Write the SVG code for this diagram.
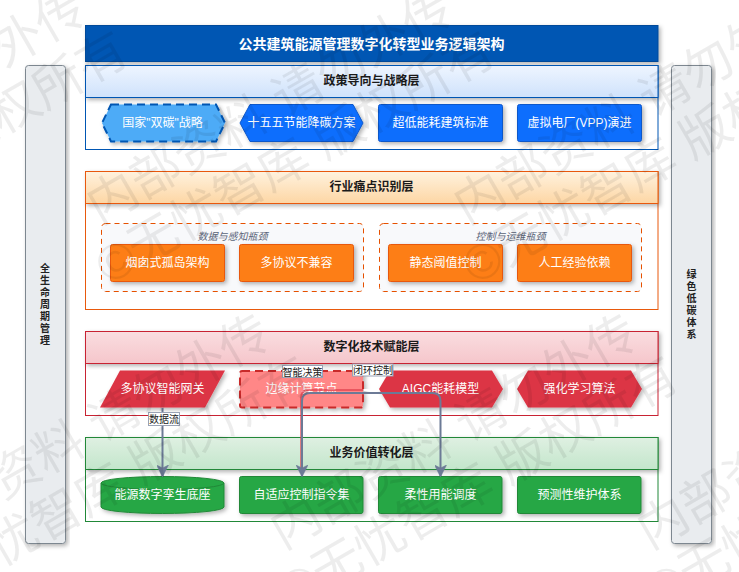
<svg xmlns="http://www.w3.org/2000/svg" width="739" height="572" viewBox="0 0 739 572">
<style>
text{font-family:"Liberation Sans","Noto Sans CJK SC",sans-serif;text-anchor:middle;dominant-baseline:central}
.wm{font-size:50px;fill:#000;fill-opacity:.07;text-anchor:start;dominant-baseline:auto}
.hd{font-size:12px;font-weight:bold;fill:#1a1a1a}
.n{font-size:12px;fill:#fff}
.s{filter:url(#sh)}
.lb{fill:#fff;stroke:#9aa3b5;stroke-width:1}
.lt{font-size:10px;fill:#222}
.gt{font-size:10px;font-style:italic;fill:#5a6478}
.grp{fill:#f8f9fb;stroke:#e65100;stroke-dasharray:5 4}
.side{fill:#e9ecef;stroke:#7d8790}
.st{font-size:10px;font-weight:bold;fill:#222}
.c{fill:none;stroke:#6c7a96;stroke-width:2;marker-end:url(#a)}
</style>
<defs>
<filter id="sh" x="-10%" y="-10%" width="120%" height="130%"><feDropShadow dx="2" dy="2" stdDeviation="2" flood-color="#000" flood-opacity=".3"/></filter>
<marker id="a" markerUnits="userSpaceOnUse" markerWidth="12" markerHeight="13" refX="6" refY="11" orient="0"><path d="M0 0L6 3L12 0L6 12Z" fill="#6c7a96" stroke="#6c7a96" stroke-width=".5"/></marker>
<linearGradient id="gb" x1="0" y1="0" x2="0" y2="1"><stop offset="0" stop-color="#eef5ff"/><stop offset="1" stop-color="#cfe2fb"/></linearGradient>
<linearGradient id="go" x1="0" y1="0" x2="0" y2="1"><stop offset="0" stop-color="#fff2de"/><stop offset="1" stop-color="#fdd6a4"/></linearGradient>
<linearGradient id="gr" x1="0" y1="0" x2="0" y2="1"><stop offset="0" stop-color="#fadde0"/><stop offset="1" stop-color="#f5c6cb"/></linearGradient>
<linearGradient id="gg" x1="0" y1="0" x2="0" y2="1"><stop offset="0" stop-color="#dff0e2"/><stop offset="1" stop-color="#c3e6cb"/></linearGradient>
</defs>
<rect width="739" height="572" fill="#fff"/>
<g id="title"><rect class="s" x="85.500" y="25.500" width="572.500" height="36" fill="#0056b3" stroke="#004a99"/><text x="371.500" y="43.500" font-size="14" font-weight="bold" fill="#fff">公共建筑能源管理数字化转型业务逻辑架构</text></g>
<g id="side-left"><rect class="side s" x="25.500" y="65.500" width="40" height="478" rx="3"/><text class="st" x="45"><tspan x="45" y="268">全</tspan><tspan x="45" y="280">生</tspan><tspan x="45" y="292">命</tspan><tspan x="45" y="304">周</tspan><tspan x="45" y="316">期</tspan><tspan x="45" y="328">管</tspan><tspan x="45" y="340">理</tspan></text></g>
<g id="side-right"><rect class="side s" x="671.500" y="65.500" width="40" height="478" rx="3"/><text class="st" x="691.500"><tspan x="691.500" y="274">绿</tspan><tspan x="691.500" y="286">色</tspan><tspan x="691.500" y="298">低</tspan><tspan x="691.500" y="310">碳</tspan><tspan x="691.500" y="322">体</tspan><tspan x="691.500" y="334">系</tspan></text></g>
<g id="layer1"><rect x="85.500" y="65.500" width="572.500" height="84" fill="#fff" stroke="#0056b3"/><rect class="s" x="85.500" y="65.500" width="572.500" height="32" fill="url(#gb)" stroke="#0056b3"/><text class="hd" x="371.500" y="80.500">政策导向与战略层</text></g>
<g id="layer2"><rect x="85.500" y="171.500" width="572.500" height="138" fill="#fff" stroke="#e8590c"/><rect class="s" x="85.500" y="171.500" width="572.500" height="32" fill="url(#go)" stroke="#e8590c"/><text class="hd" x="371.500" y="186.500">行业痛点识别层</text></g>
<g id="layer3"><rect x="85.500" y="331.500" width="572.500" height="84" fill="#fff" stroke="#c82333"/><rect class="s" x="85.500" y="331.500" width="572.500" height="32" fill="url(#gr)" stroke="#c82333"/><text class="hd" x="371.500" y="346.500">数字化技术赋能层</text></g>
<g id="layer4"><rect x="85.500" y="437.500" width="572.500" height="84" fill="#fff" stroke="#218838"/><rect class="s" x="85.500" y="437.500" width="572.500" height="32" fill="url(#gg)" stroke="#218838"/><text class="hd" x="371.500" y="452.500">业务价值转化层</text></g>
<g id="group-a"><rect class="grp" x="101.500" y="223.500" width="262" height="68" rx="4"/><text class="gt" x="232.500" y="236">数据与感知瓶颈</text></g>
<g id="group-b"><rect class="grp" x="379.500" y="223.500" width="262" height="68" rx="4"/><text class="gt" x="510.500" y="236">控制与运维瓶颈</text></g>
<g id="n1"><path class="s" d="M111 104.500H216L225 123L216 141.500H111L102 123Z" fill="#4dabf7" stroke="#0056b3" stroke-width="2" stroke-dasharray="8 5"/><text class="n" x="162.500" y="122.500">国家"双碳"战略</text></g>
<g id="n2"><path class="s" d="M250 104.500H353L363 123L353 141.500H250L240 123Z" fill="#0d6efd" stroke="#0a58ca"/><text class="n" x="301.500" y="122.500">十五五节能降碳方案</text></g>
<g id="n3"><rect class="s" x="378.500" y="104.500" width="124" height="37" rx="2" fill="#0d6efd" stroke="#0a58ca"/><text class="n" x="440.500" y="122.500">超低能耗建筑标准</text></g>
<g id="n4"><rect class="s" x="517.500" y="104.500" width="124" height="37" rx="2" fill="#0d6efd" stroke="#0a58ca"/><text class="n" x="579.500" y="122.500">虚拟电厂(VPP)演进</text></g>
<g id="n5"><rect class="s" x="110.500" y="244.500" width="114" height="37" rx="2" fill="#fd7e14" stroke="#e8590c"/><text class="n" x="167.500" y="262.500">烟囱式孤岛架构</text></g>
<g id="n6"><rect class="s" x="239.500" y="244.500" width="114" height="37" rx="2" fill="#fd7e14" stroke="#e8590c"/><text class="n" x="296.500" y="262.500">多协议不兼容</text></g>
<g id="n7"><rect class="s" x="388.500" y="244.500" width="114" height="37" rx="2" fill="#fd7e14" stroke="#e8590c"/><text class="n" x="445.500" y="262.500">静态阈值控制</text></g>
<g id="n8"><rect class="s" x="517.500" y="244.500" width="114" height="37" rx="2" fill="#fd7e14" stroke="#e8590c"/><text class="n" x="574.500" y="262.500">人工经验依赖</text></g>
<g id="n9"><path class="s" d="M120 370.500H225L205 407.500H100Z" fill="#dc3545"/><text class="n" x="162.500" y="388.500">多协议智能网关</text></g>
<g id="n10"><rect class="s" x="240" y="371" width="123" height="36.500" rx="2" fill="#ff8787" stroke="#c92a2a" stroke-width="2" stroke-dasharray="8 5"/><text class="n" x="301.500" y="388.500">边缘计算节点</text></g>
<g id="n11"><path class="s" d="M390 370.500H492L503 389L492 407.500H390L379 389Z" fill="#dc3545"/><text class="n" x="440.500" y="388.500">AIGC能耗模型</text></g>
<g id="n12"><path class="s" d="M528 370.500H631L642 389L631 407.500H528L517 389Z" fill="#dc3545"/><text class="n" x="579.500" y="388.500">强化学习算法</text></g>
<g id="n13"><path class="s" d="M101 483A61.500 6.500 0 0 1 224 483V507A61.500 6.500 0 0 1 101 507Z" fill="#28a745" stroke="#218838"/><path d="M101 483A61.500 6.500 0 0 0 224 483" fill="none" stroke="#218838"/><text class="n" x="162.500" y="494.500">能源数字孪生底座</text></g>
<g id="n14"><rect class="s" x="239.500" y="476.500" width="123.500" height="37" rx="2" fill="#28a745" stroke="#218838"/><text class="n" x="301.500" y="494.500">自适应控制指令集</text></g>
<g id="n15"><rect class="s" x="378.500" y="476.500" width="123.500" height="37" rx="2" fill="#28a745" stroke="#218838"/><text class="n" x="440.500" y="494.500">柔性用能调度</text></g>
<g id="n16"><rect class="s" x="517.500" y="476.500" width="123.500" height="37" rx="2" fill="#28a745" stroke="#218838"/><text class="n" x="579.500" y="494.500">预测性维护体系</text></g>
<g id="connectors">
<path class="c" d="M162.500 408V476"/>
<path d="M379 390H309Q301 390 301 398V468" fill="none" stroke="#dc3545" stroke-width="2" stroke-opacity=".6"/>
<path d="M363.500 390H379" stroke="#fff" stroke-width="2"/>
<path class="c" d="M440.500 476V401Q440.500 393 432.500 393H310Q302 393 302 401V476" style="marker-start:url(#a)"/>
<rect class="lb" x="148.500" y="412.500" width="31" height="13"/><text class="lt" x="164" y="419.500">数据流</text>
<rect class="lb" x="282.500" y="365.500" width="40" height="12"/><text class="lt" x="302.500" y="372">智能决策</text>
<rect class="lb" x="352.500" y="364" width="40.500" height="12"/><text class="lt" x="373" y="370.500">闭环控制</text>
</g>
<g id="watermark">
<text class="wm" transform="translate(-267.600 225) rotate(-30)">内部资料 请勿外传</text>
<text class="wm" transform="translate(99.400 225) rotate(-30)">内部资料 请勿外传</text>
<text class="wm" transform="translate(466.400 225) rotate(-30)">内部资料 请勿外传</text>
<text class="wm" transform="translate(-84 550) rotate(-30)">内部资料 请勿外传</text>
<text class="wm" transform="translate(283 550) rotate(-30)">内部资料 请勿外传</text>
<text class="wm" transform="translate(650 550) rotate(-30)">内部资料 请勿外传</text>
<text class="wm" transform="translate(-258.600 285.600) rotate(-30)">©无忧智库 版权所有</text>
<text class="wm" transform="translate(108.400 285.600) rotate(-30)">©无忧智库 版权所有</text>
<text class="wm" transform="translate(475.400 285.600) rotate(-30)">©无忧智库 版权所有</text>
<text class="wm" transform="translate(-75 610.600) rotate(-30)">©无忧智库 版权所有</text>
<text class="wm" transform="translate(292 610.600) rotate(-30)">©无忧智库 版权所有</text>
<text class="wm" transform="translate(659 610.600) rotate(-30)">©无忧智库 版权所有</text>
</g>
</svg>
